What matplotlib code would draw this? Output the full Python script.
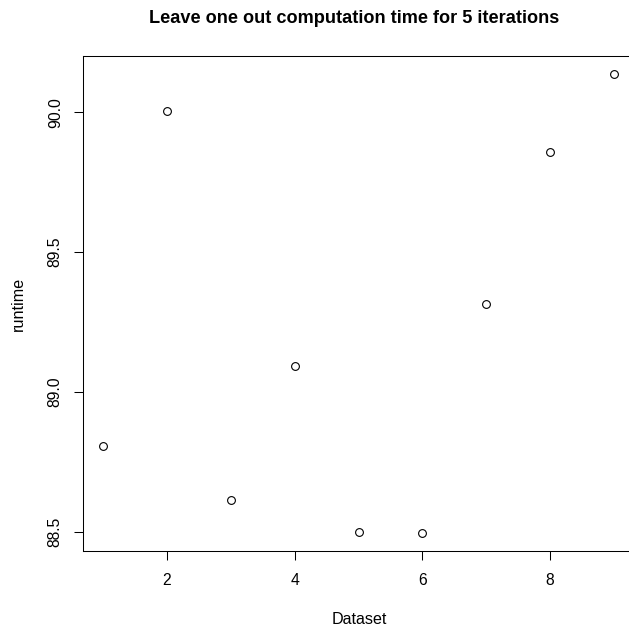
#!/usr/bin/env python3
"""Leave-one-out computation time per dataset, drawn in the style of an R base plot."""

import matplotlib

matplotlib.use("Agg")
import matplotlib.pyplot as plt

dataset = [1, 2, 3, 4, 5, 6, 7, 8, 9]
runtime = [88.806, 90.006, 88.613, 89.094, 88.502, 88.497, 89.315, 89.858, 90.136]
x_ticks = [2, 4, 6, 8]
y_ticks = [88.5, 89.0, 89.5, 90.0]

plt.rcParams["font.family"] = ["Liberation Sans", "DejaVu Sans"]

W, H = 629, 628
fig = plt.figure(figsize=(W / 100, H / 100), dpi=100)
# plot box in pixels: left 82.7, right 634.4 (runs past the image edge), top 55.9, bottom 551.3
ax = fig.add_axes([82.7 / W, (H - 551.3) / H, (634.4 - 82.7) / W, (551.3 - 55.9) / H])

ax.plot(dataset, runtime, linestyle="none", marker="o", markersize=5.6,
        markerfacecolor="none", markeredgecolor="black", markeredgewidth=0.8)

# R pads the data range by 4% on each side
ax.margins(0.04)

ax.set_xticks(x_ticks)
ax.set_yticks(y_ticks)
ax.set_yticklabels([f"{v:.1f}" for v in y_ticks], rotation=90, va="center")
ax.tick_params(axis="both", direction="out", length=6.8, width=0.75,
               labelsize=11.3, color="black")
ax.tick_params(axis="x", pad=8.5)
ax.tick_params(axis="y", pad=7.5)
for s in ax.spines.values():
    s.set_linewidth(0.75)
    s.set_color("black")

ax.set_xlabel("Dataset", fontsize=11.6)
ax.set_ylabel("runtime", fontsize=11.6)
ax.xaxis.set_label_coords((359.5 - 82.7) / 551.7, (551.3 - 619) / 495.4)
ax.xaxis.label.set_va("center")
ax.yaxis.set_label_coords((18 - 82.7) / 551.7, 0.5)
ax.yaxis.label.set_va("center")

ax.set_title("Leave one out computation time for 5 iterations",
             fontsize=13.1, fontweight="bold", pad=23.5)
ax.title.set_x((354 - 82.7) / 551.7)

fig.savefig("out.png", dpi=100)
plt.close(fig)
